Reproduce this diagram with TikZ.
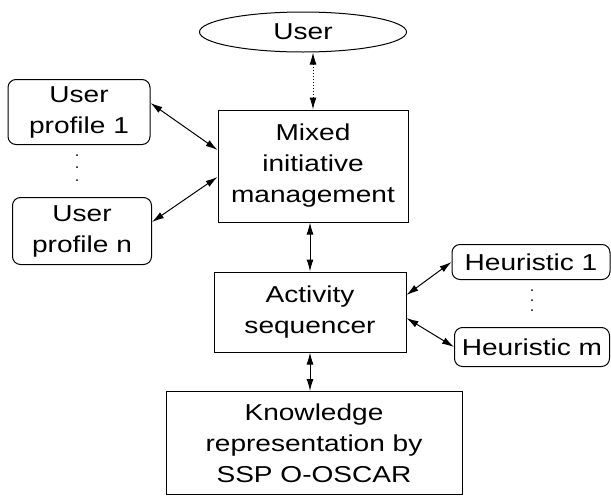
\documentclass[tikz,border=0pt]{standalone}
\usepackage{fontspec}
\setmainfont{Liberation Sans}[FakeStretch=1.22]
\usetikzlibrary{arrows.meta,shapes.geometric}

\tikzset{
  box/.style={draw,line width=1pt,inner sep=0pt,align=center,
    font=\fontsize{23}{31}\selectfont},
  roundbox/.style={box,rounded corners=8pt},
  link/.style={line width=1pt,{Latex[length=12pt,width=7pt]}-{Latex[length=12pt,width=7pt]}}
}

\begin{document}
\begin{tikzpicture}[x=1pt,y=-1pt]
      \useasboundingbox (0,0) rectangle (611,496);

      %%%%%%%%%%%%%%%%%%%%%%%%%%%%%%%%%%%%%%%%%%%%%%%%%%%%%%%%%%%%%%%%%%%%%%%%%%%
      %%%%  Middle column
      \node[box,ellipse,minimum width=207,minimum height=40] (user) at (303,32) {User};
      \node[box,minimum width=190,minimum height=112] (mixed) at (313,166)
        {Mixed\\initiative\\management};
      \node[box,minimum width=192,minimum height=80] (activity) at (310,312)
        {Activity\\sequencer};
      \node[box,minimum width=296,minimum height=103] (knowledge) at (314,443)
        {Knowledge\\representation by\\SSP O-OSCAR};

      %%%%%%%%%%%%%%%%%%%%%%%%%%%%%%%%%%%%%%%%%%%%%%%%%%%%%%%%%%%%%%%%%%%%%%%%%%%
      %%%%  User profiles
      \node[roundbox,minimum width=142,minimum height=65] (profile1) at (79,112)
        {User\\profile 1};
      \node[roundbox,minimum width=139,minimum height=67] (profilen) at (82,231)
        {User\\profile n};
      \foreach \y in {155,167,180}
        {\fill (77,\y) circle (1pt);};

      %%%%%%%%%%%%%%%%%%%%%%%%%%%%%%%%%%%%%%%%%%%%%%%%%%%%%%%%%%%%%%%%%%%%%%%%%%%
      %%%%  Heuristics
      \node[roundbox,minimum width=158,minimum height=35] (heur1) at (531,262)
        {Heuristic 1};
      \node[roundbox,minimum width=155,minimum height=39] (heurm) at (532,347)
        {Heuristic m};
      \foreach \y in {290,300,310}
        {\fill (532,\y) circle (1pt);};

      %%%%%%%%%%%%%%%%%%%%%%%%%%%%%%%%%%%%%%%%%%%%%%%%%%%%%%%%%%%%%%%%%%%%%%%%%%%
      %%%%  Connectors
      \draw[link,dotted] (mixed.north) -- (mixed.north |- user.south);
      \draw[link] (activity.north) -- (activity.north |- mixed.south);
      \draw[link] (activity.south) -- (activity.south |- knowledge.north);

      \draw[link] ([yshift=9pt]profile1.east) -- ([yshift=16pt]mixed.west);
      \draw[link] ([yshift=9pt]profilen.east) -- ([yshift=-11pt]mixed.west);

      \draw[link] ([yshift=17pt]activity.east) -- (heur1.west);
      \draw[link] ([yshift=-6pt]activity.east) -- (heurm.west);
    \end{tikzpicture}
\end{document}
